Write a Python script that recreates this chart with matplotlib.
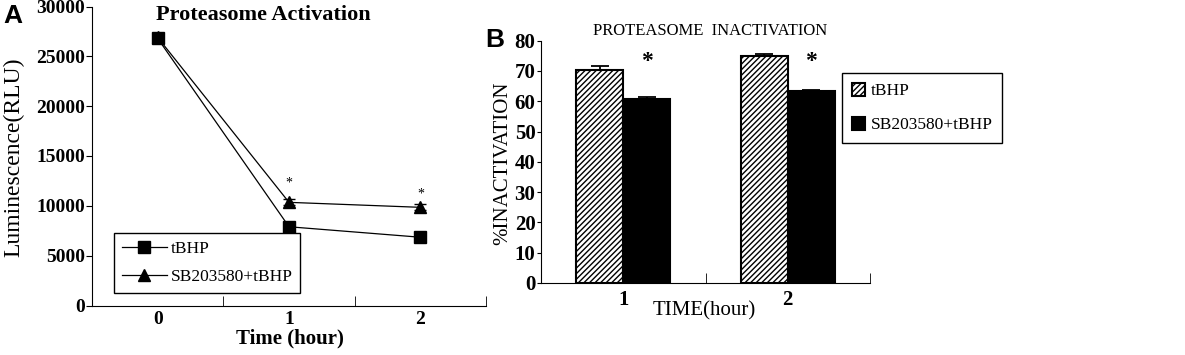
import numpy as np
import matplotlib
matplotlib.use("Agg")
import matplotlib.pyplot as plt
from matplotlib.lines import Line2D

# Panel A data
times_a = [0, 1, 2]
tbhp_a = [26800, 7900, 6850]
tbhp_a_err = [300, 300, 250]
sb_a = [26900, 10350, 9850]
sb_a_err = [250, 300, 300]

# Panel B data
times_b = ["1", "2"]
tbhp_b = [70.3, 74.9]
tbhp_b_err = [1.3, 0.6]
sb_b = [60.8, 63.5]
sb_b_err = [0.6, 0.2]

SERIF = "Liberation Serif"

fig = plt.figure(figsize=(11.85, 3.55), dpi=100)

# ---------------- panel A ----------------
axa = fig.add_axes([92 / 1185, 1 - 305.5 / 355, 394 / 1185, 299 / 355])
axa.errorbar(times_a, tbhp_a, yerr=tbhp_a_err, color="black", marker="s",
             markersize=8.5, lw=0.9, capsize=4, elinewidth=0.9)
axa.errorbar(times_a, sb_a, yerr=sb_a_err, color="black", marker="^",
             markersize=9, lw=0.9, capsize=4, elinewidth=0.9)
axa.set_xlim(-0.5, 2.5)
axa.set_ylim(0, 30000)
axa.spines["top"].set_visible(False)
axa.spines["right"].set_visible(False)
axa.set_xticks(times_a)
axa.set_xticks([0.5, 1.5, 2.5], minor=True)
axa.tick_params(axis="x", which="major", length=0, pad=4)
axa.tick_params(axis="x", which="minor", direction="in", length=7)
axa.tick_params(axis="y", direction="out", length=4, pad=1)
axa.set_yticks(np.arange(0, 30001, 5000))
for lab in axa.get_xticklabels() + axa.get_yticklabels():
    lab.set_fontfamily(SERIF)
    lab.set_fontweight("bold")
    lab.set_fontsize(14)
for x, y in [(1, 12300), (2, 11200)]:
    axa.text(x, y, "*", ha="center", va="center", fontsize=10, family=SERIF)
fig.text(263 / 1185, 1 - 15 / 355, "Proteasome Activation",
         ha="center", va="center", fontsize=16, fontweight="bold", family=SERIF)
fig.text(290 / 1185, 1 - 338 / 355, "Time (hour)", ha="center", va="center",
         fontsize=15, fontweight="bold", family=SERIF)
fig.text(14 / 1185, 1 - 157 / 355, "Luminescence(RLU)", rotation=90, ha="center",
         va="center", fontsize=17, family=SERIF)
handles_a = [
    Line2D([], [], color="black", lw=0.9, marker="s", markersize=8.5),
    Line2D([], [], color="black", lw=0.9, marker="^", markersize=9),
]
leg = axa.legend(handles_a, ["tBHP", "SB203580+tBHP"], loc="lower left",
                 bbox_to_anchor=(114 / 1185, 1 - 293 / 355),
                 bbox_transform=fig.transFigure, fancybox=False, edgecolor="black",
                 framealpha=1, handlelength=2.6, handletextpad=0.2,
                 prop={"family": SERIF, "size": 12.5}, borderpad=0.45,
                 labelspacing=0.7, borderaxespad=0)
leg.get_frame().set_linewidth(1.0)
fig.text(3 / 1185, 1 - 16 / 355, "A", fontsize=19, fontweight="bold",
         family="Liberation Sans", va="center", ha="left")

# ---------------- panel B ----------------
axb = fig.add_axes([541 / 1185, 1 - 283 / 355, 329 / 1185, 242.3 / 355])
xb = np.arange(len(times_b))
w = 0.286
axb.bar(xb - w / 2, tbhp_b, w, yerr=[[0] * len(tbhp_b), tbhp_b_err], color="white",
        edgecolor="black", hatch="//////", lw=1.5, label="tBHP",
        error_kw=dict(capsize=6.5, elinewidth=1.3, capthick=1.3))
axb.bar(xb + w / 2, sb_b, w, yerr=[[0] * len(sb_b), sb_b_err], color="black",
        edgecolor="black", lw=1.5, label="SB203580+tBHP",
        error_kw=dict(capsize=6.5, elinewidth=1.3, capthick=1.3))
axb.set_xlim(-0.5, 1.5)
axb.set_ylim(0, 80)
axb.spines["top"].set_visible(False)
axb.spines["right"].set_visible(False)
axb.set_xticks(xb)
axb.set_xticklabels(times_b)
axb.set_xticks([0.5, 1.5], minor=True)
axb.tick_params(axis="x", which="major", length=0, pad=5)
axb.tick_params(axis="x", which="minor", direction="in", length=7)
axb.tick_params(axis="y", direction="out", length=3, pad=1)
axb.set_yticks(np.arange(0, 81, 10))
for lab in axb.get_xticklabels() + axb.get_yticklabels():
    lab.set_fontfamily(SERIF)
    lab.set_fontweight("bold")
    lab.set_fontsize(15)
for i in range(len(times_b)):
    axb.text(xb[i] + w / 2, 73.0, "*", ha="center", va="center", fontsize=17,
             fontweight="bold", family=SERIF)
fig.text(710 / 1185, 1 - 31 / 355, "PROTEASOME  INACTIVATION", ha="center",
         va="center", fontsize=12, family=SERIF)
fig.text(704 / 1185, 1 - 311 / 355, "TIME(hour)", ha="center", va="center",
         fontsize=15, family=SERIF)
fig.text(503 / 1185, 1 - 163 / 355, "%INACTIVATION", rotation=90, ha="center",
         va="center", fontsize=15, family=SERIF)
legb = axb.legend(loc="upper left", bbox_to_anchor=(842 / 1185, 1 - 73 / 355),
                  bbox_transform=fig.transFigure, fancybox=False, edgecolor="black",
                  framealpha=1, handlelength=0.8, handleheight=0.8,
                  handletextpad=0.3, prop={"family": SERIF, "size": 12.5},
                  borderpad=0.55, labelspacing=1.0, borderaxespad=0)
legb.get_frame().set_linewidth(1.0)
fig.text(485 / 1185, 1 - 40 / 355, "B", fontsize=19, fontweight="bold",
         family="Liberation Sans", va="center", ha="left")

fig.savefig("out.png", dpi=100)
